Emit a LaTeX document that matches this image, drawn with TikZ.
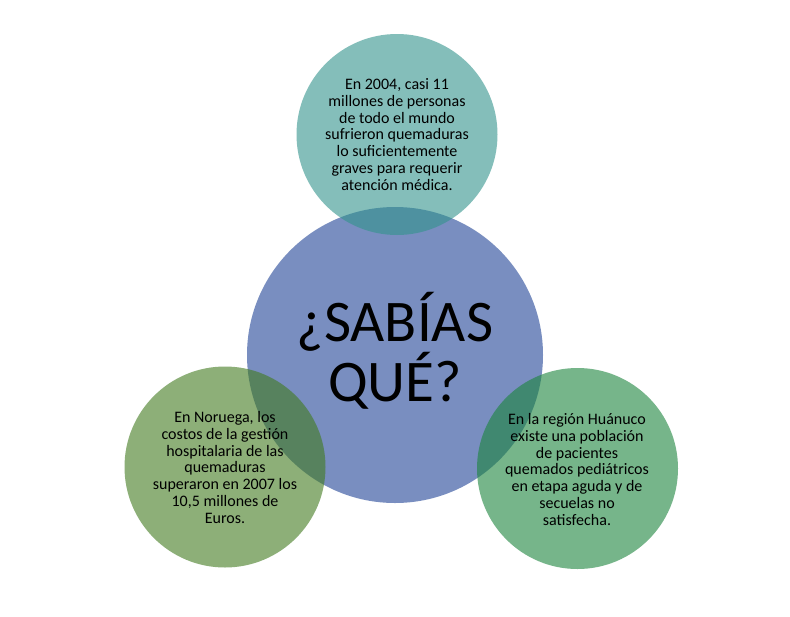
\documentclass[tikz,border=0pt]{standalone}
\usepackage{fontspec}
\setmainfont{Carlito}
\definecolor{cblue}{RGB}{33,68,150}
\definecolor{cteal}{RGB}{50,148,140}
\definecolor{cgreenA}{RGB}{65,122,30}
\definecolor{cgreenB}{RGB}{27,132,60}
\tikzset{
  bubble/.style={circle, fill opacity=0.6, text opacity=1, inner sep=0pt},
  small/.style={align=center, font=\fontsize{16}{16.8}\selectfont, text=black},
  big/.style={align=center, font=\fontsize{59}{58}\selectfont, text=black}
}
\begin{document}
\begin{tikzpicture}[x=1pt,y=-1pt]
\useasboundingbox (0,0) rectangle (790,616);
\fill[white] (0,0) rectangle (790,616);
\node[bubble, fill=cblue, minimum size=296pt] (c) at (395,355) {};
\node[bubble, fill=cteal, minimum size=201pt] (t) at (397,134.5) {};
\node[bubble, fill=cgreenA, minimum size=201pt] (l) at (225,467) {};
\node[bubble, fill=cgreenB, minimum size=201pt] (r) at (577.5,468.5) {};
\node[big] (ct) at (395,351) {¿SABÍAS\\QUÉ?};
\node[small] (tt) at (397,134.5) {En 2004, casi 11\\millones de personas\\de todo el mundo\\sufrieron quemaduras\\lo suficientemente\\graves para requerir\\atención médica.};
\node[small] (lt) at (225,467.5) {En Noruega, los\\costos de la gestión\\hospitalaria de las\\quemaduras\\superaron en 2007 los\\10,5 millones de\\Euros.};
\node[small] (rt) at (577,469.5) {En la región Huánuco\\existe una población\\de pacientes\\quemados pediátricos\\en etapa aguda y de\\secuelas no\\satisfecha.};
\end{tikzpicture}
\end{document}
